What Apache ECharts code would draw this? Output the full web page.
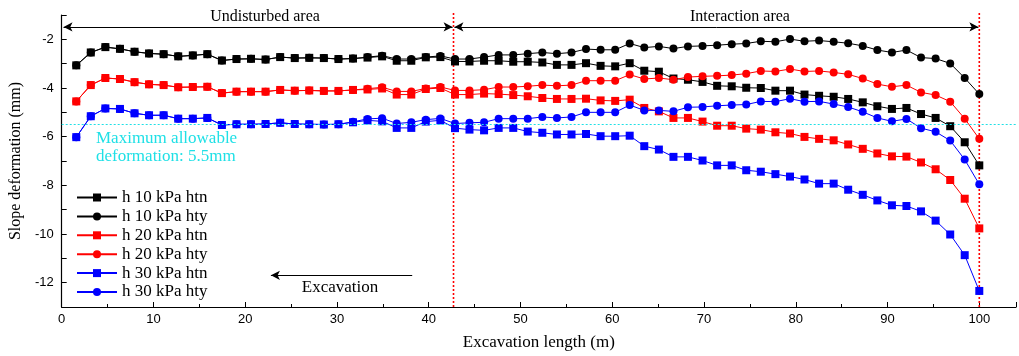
<!DOCTYPE html>
<html><head><meta charset="utf-8">
<script src="https://cdn.jsdelivr.net/npm/echarts@6/dist/echarts.min.js"></script>
<style>html,body{margin:0;padding:0;background:#fff}#c{width:1019px;height:356px}</style>
</head><body><div id="c"></div>
<script>
// Excavation length (m)
const xLen = [1.59,3.17,4.76,6.35,7.94,9.52,11.11,12.70,14.29,15.87,17.46,19.05,20.63,22.22,23.81,25.40,26.98,28.57,30.16,31.75,33.33,34.92,36.51,38.10,39.68,41.27,42.86,44.44,46.03,47.62,49.21,50.79,52.38,53.97,55.56,57.14,58.73,60.32,61.90,63.49,65.08,66.67,68.25,69.84,71.43,73.02,74.60,76.19,77.78,79.37,80.95,82.54,84.13,85.71,87.30,88.89,90.48,92.06,93.65,95.24,96.83,98.41,100.00];

const htn10 = [-3.07,-2.54,-2.32,-2.39,-2.51,-2.58,-2.61,-2.70,-2.66,-2.61,-2.87,-2.81,-2.80,-2.83,-2.73,-2.77,-2.76,-2.77,-2.81,-2.79,-2.75,-2.70,-2.88,-2.88,-2.74,-2.73,-2.91,-2.91,-2.88,-2.88,-2.92,-2.92,-2.95,-3.05,-3.05,-2.98,-3.09,-3.11,-2.98,-3.29,-3.33,-3.61,-3.66,-3.75,-3.91,-3.93,-3.99,-4.00,-4.11,-4.11,-4.27,-4.32,-4.36,-4.45,-4.59,-4.75,-4.86,-4.82,-5.07,-5.23,-5.57,-6.23,-7.18];
const hty10 = [-3.07,-2.54,-2.32,-2.39,-2.51,-2.58,-2.61,-2.70,-2.66,-2.61,-2.87,-2.81,-2.80,-2.83,-2.73,-2.77,-2.76,-2.77,-2.81,-2.79,-2.73,-2.67,-2.81,-2.81,-2.73,-2.68,-2.81,-2.81,-2.73,-2.64,-2.64,-2.59,-2.54,-2.59,-2.54,-2.40,-2.43,-2.43,-2.17,-2.34,-2.29,-2.38,-2.29,-2.27,-2.24,-2.20,-2.17,-2.08,-2.10,-1.99,-2.08,-2.05,-2.10,-2.16,-2.27,-2.44,-2.54,-2.44,-2.75,-2.79,-2.99,-3.59,-4.25];
const htn20 = [-4.55,-3.88,-3.59,-3.63,-3.76,-3.85,-3.88,-3.97,-3.96,-3.95,-4.21,-4.15,-4.15,-4.15,-4.08,-4.11,-4.10,-4.12,-4.12,-4.08,-4.06,-4.02,-4.27,-4.27,-4.04,-4.00,-4.27,-4.27,-4.23,-4.25,-4.29,-4.34,-4.41,-4.45,-4.45,-4.44,-4.51,-4.53,-4.48,-4.82,-4.96,-5.23,-5.23,-5.38,-5.55,-5.55,-5.67,-5.71,-5.82,-5.87,-6.01,-6.09,-6.15,-6.32,-6.50,-6.69,-6.81,-6.82,-7.06,-7.34,-7.78,-8.55,-9.77];
const hty20 = [-4.55,-3.88,-3.59,-3.63,-3.76,-3.85,-3.88,-3.97,-3.96,-3.95,-4.21,-4.15,-4.15,-4.15,-4.08,-4.11,-4.10,-4.12,-4.12,-4.08,-4.03,-3.97,-4.14,-4.14,-4.02,-3.96,-4.10,-4.10,-4.07,-3.96,-3.96,-3.93,-3.88,-3.91,-3.88,-3.70,-3.70,-3.70,-3.45,-3.63,-3.59,-3.66,-3.55,-3.52,-3.50,-3.47,-3.41,-3.30,-3.32,-3.22,-3.32,-3.30,-3.36,-3.44,-3.61,-3.84,-3.95,-3.88,-4.18,-4.29,-4.56,-5.26,-6.09];
const htn30 = [-6.02,-5.16,-4.84,-4.86,-5.04,-5.12,-5.12,-5.26,-5.26,-5.23,-5.52,-5.49,-5.49,-5.48,-5.43,-5.48,-5.49,-5.50,-5.49,-5.41,-5.33,-5.37,-5.64,-5.64,-5.38,-5.33,-5.65,-5.71,-5.74,-5.64,-5.64,-5.79,-5.84,-5.91,-5.91,-5.89,-5.98,-5.98,-5.96,-6.39,-6.53,-6.83,-6.83,-6.98,-7.18,-7.18,-7.38,-7.44,-7.54,-7.64,-7.76,-7.93,-7.93,-8.18,-8.39,-8.62,-8.82,-8.85,-9.07,-9.45,-10.02,-10.87,-12.34];
const hty30 = [-6.02,-5.16,-4.84,-4.86,-5.04,-5.12,-5.12,-5.26,-5.26,-5.23,-5.52,-5.49,-5.49,-5.48,-5.43,-5.48,-5.49,-5.50,-5.49,-5.39,-5.27,-5.24,-5.46,-5.41,-5.30,-5.25,-5.46,-5.43,-5.41,-5.26,-5.26,-5.26,-5.19,-5.23,-5.19,-5.00,-5.00,-5.00,-4.70,-4.92,-4.92,-4.96,-4.79,-4.78,-4.73,-4.70,-4.68,-4.55,-4.56,-4.44,-4.56,-4.55,-4.66,-4.78,-4.98,-5.23,-5.37,-5.27,-5.65,-5.80,-6.16,-6.94,-7.96];

const seriesNames = ['h 10 kPa htn','h 10 kPa hty','h 20 kPa htn','h 20 kPa hty','h 30 kPa htn','h 30 kPa hty'];
const seriesValues = [htn10, hty10, htn20, hty20, htn30, hty30];
const seriesColors = ['#000000','#000000','#ff0000','#ff0000','#0000ff','#0000ff'];
const seriesSymbols = ['rect','circle','rect','circle','rect','circle'];

const boundaryX = 42.7;   // undisturbed / interaction boundary
const endX = 100;
const limitY = -5.5;      // maximum allowable deformation
const arrowY = -1.49;
const excY = -11.7;
const yBottom = -13, yTop = -1, dashTop = -0.88;

const serif = 'Liberation Serif';
const sans = 'Liberation Sans';
const cyan = '#1fe0e6';
const red = '#ff0000';

const series = seriesNames.map((n, k) => ({
  name: n, type: 'line',
  data: xLen.map((x, i) => [x, seriesValues[k][i]]),
  symbol: seriesSymbols[k], symbolSize: 8,
  itemStyle: {color: seriesColors[k]},
  lineStyle: {color: seriesColors[k], width: 1},
  z: 3
}));

// red dotted boundary lines
[boundaryX, endX].forEach(bx => {
  series.push({type: 'line', silent: true, clip: false, symbol: 'none', z: 2,
    data: [[bx, yBottom], [bx, dashTop]],
    lineStyle: {color: red, type: [2, 2], width: 1.6, opacity: 1}, itemStyle: {color: red}});
});

function helper(color, ml) {
  return {type: 'line', data: [], silent: true, itemStyle: {color: color}, lineStyle: {color: color},
    markLine: Object.assign({silent: true, animation: false, label: {show: false}}, ml)};
}
const cyanLine = {color: cyan, type: [2, 2], width: 1.2};
series.push(helper(cyan, {symbol: ['none','none'], lineStyle: cyanLine,
  data: [{yAxis: limitY, lineStyle: cyanLine}]}));
series.push(helper('#000', {symbol: ['arrow','arrow'], symbolSize: [7,9], lineStyle: {color: '#000', type: 'solid', width: 1},
  data: [[{coord: [0.2, arrowY]}, {coord: [boundaryX - 0.1, arrowY]}], [{coord: [boundaryX + 0.1, arrowY]}, {coord: [endX - 0.1, arrowY]}]]}));
series.push(helper('#000', {symbol: ['none','arrow'], symbolSize: [7,9], lineStyle: {color: '#000', type: 'solid', width: 1},
  data: [[{coord: [38.2, excY]}, {coord: [22.8, excY]}]]}));

const chart = echarts.init(document.getElementById('c'), null, {renderer: 'canvas'});
chart.setOption({
  animation: false,
  backgroundColor: '#fff',
  grid: {left: 61, right: 0, top: 15, bottom: 48, containLabel: false},
  xAxis: {
    type: 'value', min: 0, max: 104, interval: 10,
    name: 'Excavation length (m)', nameLocation: 'middle', nameGap: 27,
    nameTextStyle: {fontFamily: serif, fontSize: 17, color: '#000'},
    axisLine: {lineStyle: {color: '#000', width: 1.2}},
    axisTick: {inside: true, length: 5, lineStyle: {color: '#000'}},
    minorTick: {show: true, splitNumber: 2, length: 3, lineStyle: {color: '#000'}},
    splitLine: {show: false},
    axisLabel: {fontFamily: sans, fontSize: 13, color: '#000', margin: 6,
      formatter: v => (v % 10 === 0 ? String(v) : '')}
  },
  yAxis: {
    type: 'value', min: yBottom, max: yTop, interval: 1,
    name: 'Slope deformation (mm)', nameLocation: 'middle', nameGap: 36,
    nameTextStyle: {fontFamily: serif, fontSize: 16, color: '#000'},
    axisLine: {show: true, lineStyle: {color: '#000', width: 1.2}},
    axisTick: {show: true, inside: true, length: 5, lineStyle: {color: '#000'}},
    splitLine: {show: false},
    axisLabel: {fontFamily: sans, fontSize: 13, color: '#000', margin: 8,
      formatter: v => (v % 2 === 0 ? String(v) : '')}
  },
  legend: {
    data: seriesNames, orient: 'vertical', left: 76, top: 189, padding: 0,
    itemWidth: 40, itemHeight: 10, itemGap: 1.9,
    textStyle: {fontFamily: serif, fontSize: 17, color: '#000'}
  },
  graphic: [
    {type: 'text', x: 265, y: 17, style: {text: 'Undisturbed area', font: '16px "Liberation Serif"', fill: '#000', align: 'center', verticalAlign: 'middle'}},
    {type: 'text', x: 740, y: 17, style: {text: 'Interaction area', font: '16px "Liberation Serif"', fill: '#000', align: 'center', verticalAlign: 'middle'}},
    {type: 'text', x: 96, y: 139, style: {text: 'Maximum allowable', font: '17px "Liberation Serif"', fill: cyan, align: 'left', verticalAlign: 'middle'}},
    {type: 'text', x: 96, y: 157, style: {text: 'deformation: 5.5mm', font: '17px "Liberation Serif"', fill: cyan, align: 'left', verticalAlign: 'middle'}},
    {type: 'text', x: 340, y: 288, style: {text: 'Excavation', font: '17px "Liberation Serif"', fill: '#000', align: 'center', verticalAlign: 'middle'}}
  ],
  series: series
});
</script>
</body></html>
